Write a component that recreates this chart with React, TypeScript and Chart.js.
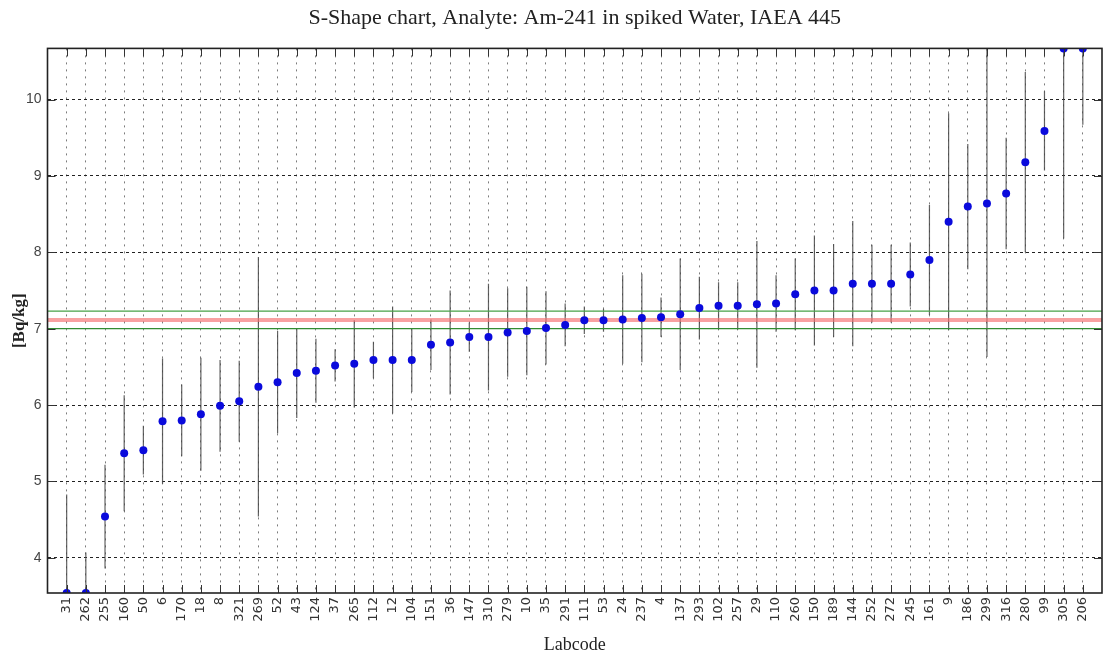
import React, { useEffect, useRef } from 'react';
import { Chart, registerables } from 'chart.js';

Chart.register(...registerables);

const titleText = 'S-Shape chart, Analyte: Am-241 in spiked Water, IAEA 445';

const labcodes = [
  '31', '262', '255', '160', '50', '6', '170', '18', '8', '321',
  '269', '52', '43', '124', '37', '265', '112', '12', '104', '151',
  '36', '147', '310', '279', '10', '35', '291', '111', '53', '24',
  '237', '4', '137', '293', '102', '257', '29', '110', '260', '150',
  '189', '144', '252', '272', '245', '161', '9', '186', '299', '316',
  '280', '99', '305', '206',
];

const values = [
  3.54, 3.54, 4.54, 5.37, 5.41, 5.79, 5.8, 5.88, 5.99, 6.05,
  6.24, 6.3, 6.42, 6.45, 6.52, 6.54, 6.59, 6.59, 6.59, 6.79,
  6.82, 6.89, 6.89, 6.95, 6.97, 7.01, 7.05, 7.11, 7.11, 7.12,
  7.14, 7.15, 7.19, 7.27, 7.3, 7.3, 7.32, 7.33, 7.45, 7.5,
  7.5, 7.59, 7.59, 7.59, 7.71, 7.9, 8.4, 8.6, 8.64, 8.77,
  9.18, 9.59, 10.67, 10.67,
];

const uncertainties = [
  1.29, 0.53, 0.68, 0.76, 0.32, 0.82, 0.47, 0.74, 0.6, 0.53,
  1.7, 0.67, 0.59, 0.42, 0.21, 0.57, 0.24, 0.7, 0.42, 0.33,
  0.68, 0.19, 0.7, 0.58, 0.58, 0.48, 0.28, 0.18, 0.15, 0.58,
  0.58, 0.26, 0.73, 0.41, 0.31, 0.31, 0.83, 0.37, 0.47, 0.72,
  0.61, 0.82, 0.51, 0.51, 0.42, 0.72, 1.42, 0.82, 2.01, 0.73,
  1.18, 0.52, 2.49, 1.0,
];

const refValue = 7.115;
const refLow = 7.0;
const refHigh = 7.23;

const yTicks = [4, 5, 6, 7, 8, 9, 10];
const yMin = 3.54;
const yMax = 10.67;

export default function App() {
  const canvasRef = useRef<HTMLCanvasElement>(null);

  useEffect(() => {
    if (!canvasRef.current) return;
    const points = values.map((v, i) => ({ x: i, y: v }));
    const errBars: { x: number; y: number | null }[] = [];
    values.forEach((v, i) => {
      errBars.push({ x: i, y: v - uncertainties[i] });
      errBars.push({ x: i, y: v + uncertainties[i] });
      errBars.push({ x: i, y: null });
    });
    const hline = (y: number) => [
      { x: -1, y },
      { x: labcodes.length, y },
    ];

    const framePlugin = {
      id: 'frame',
      afterDatasetsDraw(chart: any) {
        const { ctx, chartArea: a, scales } = chart;
        ctx.save();
        ctx.strokeStyle = '#333';
        ctx.lineWidth = 1;
        ctx.beginPath();
        scales.x.ticks.forEach((t: any) => {
          const px = Math.round(scales.x.getPixelForValue(t.value)) + 0.5;
          ctx.moveTo(px, a.bottom);
          ctx.lineTo(px, a.bottom - 8);
          ctx.moveTo(px, a.top);
          ctx.lineTo(px, a.top + 8);
        });
        scales.y.ticks.forEach((t: any) => {
          const py = Math.round(scales.y.getPixelForValue(t.value)) + 0.5;
          ctx.moveTo(a.left, py);
          ctx.lineTo(a.left + 8, py);
          ctx.moveTo(a.right, py);
          ctx.lineTo(a.right - 8, py);
        });
        ctx.stroke();
        ctx.strokeStyle = '#222';
        ctx.lineWidth = 1.6;
        ctx.strokeRect(a.left, a.top, a.right - a.left, a.bottom - a.top);
        ctx.restore();
      },
    };

    const chart = new Chart(canvasRef.current, {
      type: 'scatter',
      data: {
        datasets: [
          {
            label: 'values',
            data: points,
            pointRadius: 4,
            pointHoverRadius: 4,
            backgroundColor: '#0a0adc',
            borderColor: '#0a0adc',
            borderWidth: 0,
            clip: 0,
          } as any,
          {
            label: 'high',
            data: hline(refHigh),
            showLine: true,
            pointRadius: 0,
            borderColor: 'rgb(70,160,70)',
            borderWidth: 1.3,
          },
          {
            label: 'ref',
            data: hline(refValue),
            showLine: true,
            pointRadius: 0,
            borderColor: 'rgba(245,110,110,0.65)',
            borderWidth: 4,
          },
          {
            label: 'low',
            data: hline(refLow),
            showLine: true,
            pointRadius: 0,
            borderColor: 'rgb(50,140,50)',
            borderWidth: 1.3,
          },
          {
            label: 'err',
            data: errBars,
            showLine: true,
            spanGaps: false,
            pointRadius: 0,
            borderColor: 'rgba(70,70,70,0.85)',
            borderWidth: 1.2,
          } as any,
        ],
      },
      options: {
        responsive: false,
        animation: false,
        layout: { padding: { left: 0, right: 3.5, top: 0, bottom: 0 } },
        plugins: {
          legend: { display: false },
          tooltip: { enabled: false },
          title: {
            display: true,
            fullSize: false,
            text: titleText,
            font: { family: 'Liberation Serif', size: 22, weight: 'normal' },
            color: '#222',
            padding: { top: 5, bottom: 17 },
          },
        },
        scales: {
          x: {
            type: 'linear',
            min: -1,
            max: labcodes.length,
            offset: false,
            afterBuildTicks: (s: any) => {
              s.ticks = labcodes.map((_, i) => ({ value: i }));
            },
            afterFit: (s: any) => {
              s.height = 66;
            },
            ticks: {
              autoSkip: false,
              minRotation: 90,
              maxRotation: 90,
              padding: 4,
              font: { family: 'DejaVu Sans', size: 13 },
              color: '#333',
              callback: (v: any) => labcodes[Number(v)] ?? '',
            },
            grid: { color: 'rgba(110,110,110,0.9)', lineWidth: 1, drawTicks: false, offset: false },
            border: { display: false, dash: [2, 5] },
            title: {
              display: true,
              text: 'Labcode',
              font: { family: 'Liberation Serif', size: 18 },
              color: '#222',
              padding: { top: 0, bottom: 3 },
            },
          },
          y: {
            type: 'linear',
            min: yMin,
            max: yMax,
            afterBuildTicks: (s: any) => {
              s.ticks = yTicks.map((v) => ({ value: v }));
            },
            afterFit: (s: any) => {
              s.width = 47.5;
            },
            ticks: {
              padding: 6,
              font: { family: 'Liberation Sans', size: 14 },
              color: '#444',
              callback: (v: any) => String(v),
            },
            grid: { color: '#222', lineWidth: 1, drawTicks: false },
            border: { display: false, dash: [3, 3] },
            title: {
              display: true,
              text: '[Bq/kg]',
              font: { family: 'Liberation Serif', size: 17, weight: 'bold' },
              color: '#222',
              padding: { top: 9, bottom: 0 },
            },
          },
        },
      },
      plugins: [framePlugin],
    } as any);

    return () => chart.destroy();
  }, []);

  return (
    <div style={{ position: 'fixed', left: 0, top: 0, width: 1106, height: 659, background: '#fff' }}>
      <canvas ref={canvasRef} width={1106} height={659} />
    </div>
  );
}
